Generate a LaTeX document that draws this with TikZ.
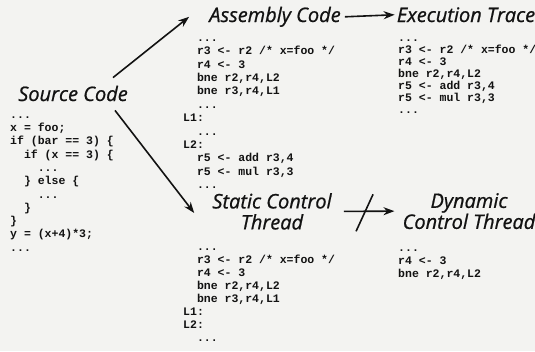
\documentclass[tikz,border=0pt]{standalone}
\usepackage{fontspec}
\usetikzlibrary{arrows, arrows.meta}
\usetikzlibrary{positioning}
\newfontfamily\titlefont{Open Sans}[FakeBold=0.8]
\newfontfamily\codefont{Liberation Mono}
\definecolor{paper}{RGB}{243,243,241}
\definecolor{ink}{RGB}{18,18,18}
\newcommand{\indt}{\hphantom{00}}
\newcommand{\fl}{\rule{0pt}{9pt}}

\begin{document}
\begin{tikzpicture}[x=1pt,y=-1pt,
  every node/.append style={inner sep=0pt, text=ink},
  titletext/.style={font=\titlefont\itshape\fontsize{20}{21}\selectfont},
  codetext/.style={align=left, anchor=north west, font={\codefont\bfseries\fontsize{11.5}{#1}\selectfont}},
  flowline/.style={draw=ink, line width=1.6pt, -{Stealth[length=11pt,width=8pt]}},
  cutline/.style={draw=ink, line width=1.6pt}]
\fill [paper] (0,0) rectangle (535,351);
\useasboundingbox (0,0) rectangle (535,351);

\node [titletext, anchor=base] (srct) at (73,101) {Source Code};
\node [codetext=13.3] (src) at (10,109) {\fl...\\x = foo;\\if (bar == 3) \{\\\indt if (x == 3) \{\\\indt\indt...\\\indt\} else \{\\\indt\indt...\\\indt\}\\\}\\y = (x+4)*3;\\...};

\node [titletext, anchor=base] (asmt) at (275,22) {Assembly Code};
\node [codetext=13.4] (asm) at (183,32) {\fl\indt...\\\indt r3 <- r2 /* x=foo */\\\indt r4 <- 3\\\indt bne r2,r4,L2\\\indt bne r3,r4,L1\\\indt...\\L1:\\\indt...\\L2:\\\indt r5 <- add r3,4\\\indt r5 <- mul r3,3\\\indt...};

\node [titletext, anchor=base] (exect) at (466,22) {Execution Trace};
\node [codetext=12] (exec) at (398,32) {\fl...\\r3 <- r2 /* x=foo */\\r4 <- 3\\bne r2,r4,L2\\r5 <- add r3,4\\r5 <- mul r3,3\\...};

\node [titletext, align=center, anchor=north] (sctt) at (272,193) {Static Control\\Thread};
\node [codetext=13] (sct) at (183,241) {\fl\indt...\\\indt r3 <- r2 /* x=foo */\\\indt r4 <- 3\\\indt bne r2,r4,L2\\\indt bne r3,r4,L1\\L1:\\L2:\\\indt...};

\node [titletext, align=center, anchor=north] (dctt) at (469,193) {Dynamic\\Control Thread};
\node [codetext=13] (dct) at (398,242) {\fl...\\r4 <- 3\\bne r2,r4,L2};

\draw [flowline] ([shift={(40,-8)}]srct.north) -- ([shift={(-20,0)}]asmt.west);
\draw [flowline] ([shift={(42,9)}]srct.south) -- ([shift={(-18,20)}]sctt.north west);
\draw [flowline] ([shift={(4,0)}]asmt.east) -- ([shift={(-2,0)}]exect.west);
\draw [flowline] ([shift={(12,0)}]sctt.east) -- ([shift={(-8,0)}]dctt.west) coordinate[pos=0.42] (cut);
\draw [cutline] ([shift={(-9,20)}]cut) -- ([shift={(8,-17)}]cut);
\end{tikzpicture}
\end{document}
